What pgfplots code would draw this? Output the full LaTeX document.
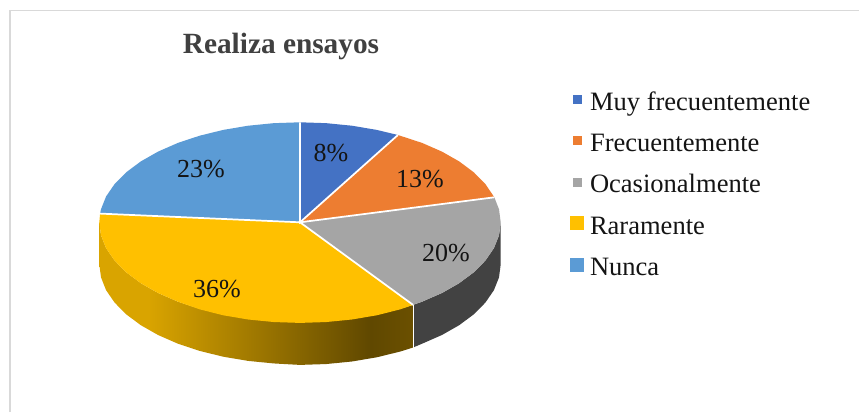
\documentclass[border=0pt]{standalone}
\usepackage{pgfplots}
\pgfplotsset{compat=1.18}
\usepackage{fontspec}
\setmainfont{Liberation Serif}
\definecolor{cBlue}{HTML}{4472C4}
\definecolor{cOrange}{HTML}{ED7D31}
\definecolor{cGray}{HTML}{A5A5A5}
\definecolor{cYellow}{HTML}{FFC000}
\definecolor{cSky}{HTML}{5B9BD5}
\definecolor{cDark}{HTML}{424242}
\definecolor{cFrame}{HTML}{D9D9D9}
\definecolor{cTitle}{HTML}{404040}
\definecolor{cWallA}{HTML}{D9A400}
\definecolor{cWallB}{HTML}{604800}
\definecolor{cWallC}{HTML}{6B5000}
\pgfdeclarehorizontalshading{wall}{100bp}{color(0bp)=(cWallA); color(25bp)=(cWallA); color(32.8bp)=(cWallA); color(68.2bp)=(cWallB); color(75bp)=(cWallC); color(100bp)=(cWallC)}
\begin{document}
\begin{tikzpicture}
\path[use as bounding box,fill=white] (0,0) rectangle (644.25pt,309pt);
\begin{axis}[
  at={(0,0)}, anchor=south west,
  x=0.75pt, y=0.75pt, scale only axis,
  xmin=-300, xmax=559, ymin=-189.7, ymax=222.3,
  hide axis, clip=false,
  legend cell align=left,
  legend style={
    at={(axis cs:270,132)}, anchor=north west,
    draw=none, fill=none,
    font=\fontsize{19.9}{24}\selectfont,
    row sep=10.95pt,
    inner sep=0pt, outer sep=0pt,
    nodes={inner sep=0pt, text height=15pt, text depth=5pt, text=black!92},
  },
]
% frame
\addplot[forget plot, color=cFrame, line width=1.1pt] coordinates {(-289.8,-189.7) (-289.8,211.8) (559,211.8)};
% side walls
\addplot[forget plot, draw=none, shade, shading=wall] coordinates {
 (113.1,-82.6) (100.35,-86.6) (76.8,-92.39) (51.9,-96.59) (26.2,-99.14) (0,-100)
 (-26.2,-99.14) (-51.9,-96.59) (-76.8,-92.39) (-100.35,-86.6) (-122.2,-79.34) (-141.9,-70.71)
 (-159.2,-60.88) (-173.8,-50) (-185.4,-38.27) (-193.9,-25.88) (-199,-13.05) (-200.7,0)
 (-200.7,-42) (-199,-55.05) (-193.9,-67.88) (-185.4,-80.27) (-173.8,-92) (-159.2,-102.88)
 (-141.9,-112.71) (-122.2,-121.34) (-100.35,-128.6) (-76.8,-134.39) (-51.9,-138.59) (-26.2,-141.14)
 (0,-142.6) (26.2,-141.74) (51.9,-139.19) (76.8,-134.99) (100.35,-129.2) (113.1,-125.2)} -- cycle;
\addplot[forget plot, draw=none, fill=cDark] coordinates {
 (200.7,0) (199,-13.05) (193.9,-25.88) (185.4,-38.27) (173.8,-50) (159.2,-60.88) (141.9,-70.71) (122.2,-79.34) (113.1,-82.6)
 (113.1,-125.2) (122.2,-121.34) (141.9,-112.71) (159.2,-102.88) (173.8,-92) (185.4,-80.27) (193.9,-67.88) (199,-55.05) (200.7,-42)} -- cycle;
% slices 8, 13, 20, 36, 23 %
\addplot[draw=none, fill=cBlue, legend image code/.code={\fill[cBlue] (3*0.75pt,-0.5*0.75pt) rectangle (11.5*0.75pt,8.5*0.75pt);\path (20*0.75pt,0);}] coordinates {
 (0,0) (0,100) (26.2,99.14) (51.9,96.59) (76.8,92.39) (97.9,87.3)} -- cycle;
\addlegendentry{Muy frecuentemente}
\addplot[draw=none, fill=cOrange, legend image code/.code={\fill[cOrange] (3*0.75pt,-0.5*0.75pt) rectangle (11.5*0.75pt,8.5*0.75pt);\path (20*0.75pt,0);}] coordinates {
 (0,0) (97.9,87.3) (122.2,79.34) (141.9,70.71) (159.2,60.88) (173.8,50) (185.4,38.27) (194.3,25)} -- cycle;
\addlegendentry{Frecuentemente}
\addplot[draw=none, fill=cGray, legend image code/.code={\fill[cGray] (3*0.75pt,-0.5*0.75pt) rectangle (11.5*0.75pt,8.5*0.75pt);\path (20*0.75pt,0);}] coordinates {
 (0,0) (194.3,25) (199,13.05) (200.7,0) (199,-13.05) (193.9,-25.88) (185.4,-38.27) (173.8,-50) (159.2,-60.88) (141.9,-70.71) (122.2,-79.34) (113.1,-82.6)} -- cycle;
\addlegendentry{Ocasionalmente}
\addplot[draw=none, fill=cYellow, legend image code/.code={\fill[cYellow] (0,-3*0.75pt) rectangle (14*0.75pt,11*0.75pt);\path (20*0.75pt,0);}] coordinates {
 (0,0) (113.1,-82.6) (100.35,-87.0) (76.8,-92.99) (51.9,-97.19) (26.2,-99.74) (0,-100.6)
 (-26.2,-99.74) (-51.9,-97.19) (-76.8,-92.99) (-100.35,-87.0) (-122.2,-79.34) (-141.9,-70.71)
 (-159.2,-60.88) (-173.8,-50) (-185.4,-38.27) (-193.9,-25.88) (-199,-13.05) (-200.7,0) (-199.9,8.7)} -- cycle;
\addlegendentry{Raramente}
\addplot[draw=none, fill=cSky, legend image code/.code={\fill[cSky] (0,-3*0.75pt) rectangle (14*0.75pt,11*0.75pt);\path (20*0.75pt,0);}] coordinates {
 (0,0) (-199.9,8.7) (-199,13.05) (-193.9,25.88) (-185.4,38.27) (-173.8,50) (-159.2,60.88)
 (-141.9,70.71) (-122.2,79.34) (-100.35,86.6) (-76.8,92.39) (-51.9,96.59) (-26.2,99.14) (0,100)} -- cycle;
\addlegendentry{Nunca}
% white separators
\addplot[forget plot, white, line width=1.3pt] coordinates {(0,100) (0,0) (97.9,87.3)};
\addplot[forget plot, white, line width=1.3pt] coordinates {(194.3,25) (0,0) (113.1,-82.6)};
\addplot[forget plot, white, line width=1.3pt] coordinates {(0,0) (-199.9,8.7)};
\addplot[forget plot, white, line width=0.8pt] coordinates {(113.1,-82.6) (113.1,-125.2)};
% labels
\node[font=\fontsize{19.5}{24}\selectfont, text=black!92] at (axis cs:31,69.3) {8\%};
\node[font=\fontsize{19.5}{24}\selectfont, text=black!92] at (axis cs:120,43.3) {13\%};
\node[font=\fontsize{19.5}{24}\selectfont, text=black!92] at (axis cs:146,-30.7) {20\%};
\node[font=\fontsize{19.5}{24}\selectfont, text=black!92] at (axis cs:-83,-66.7) {36\%};
\node[font=\fontsize{19.5}{24}\selectfont, text=black!92] at (axis cs:-99,53.3) {23\%};
\node[font=\fontsize{22}{26}\selectfont\bfseries, text=cTitle] at (axis cs:-19,176.3) {Realiza ensayos};
\end{axis}
\end{tikzpicture}
\end{document}
